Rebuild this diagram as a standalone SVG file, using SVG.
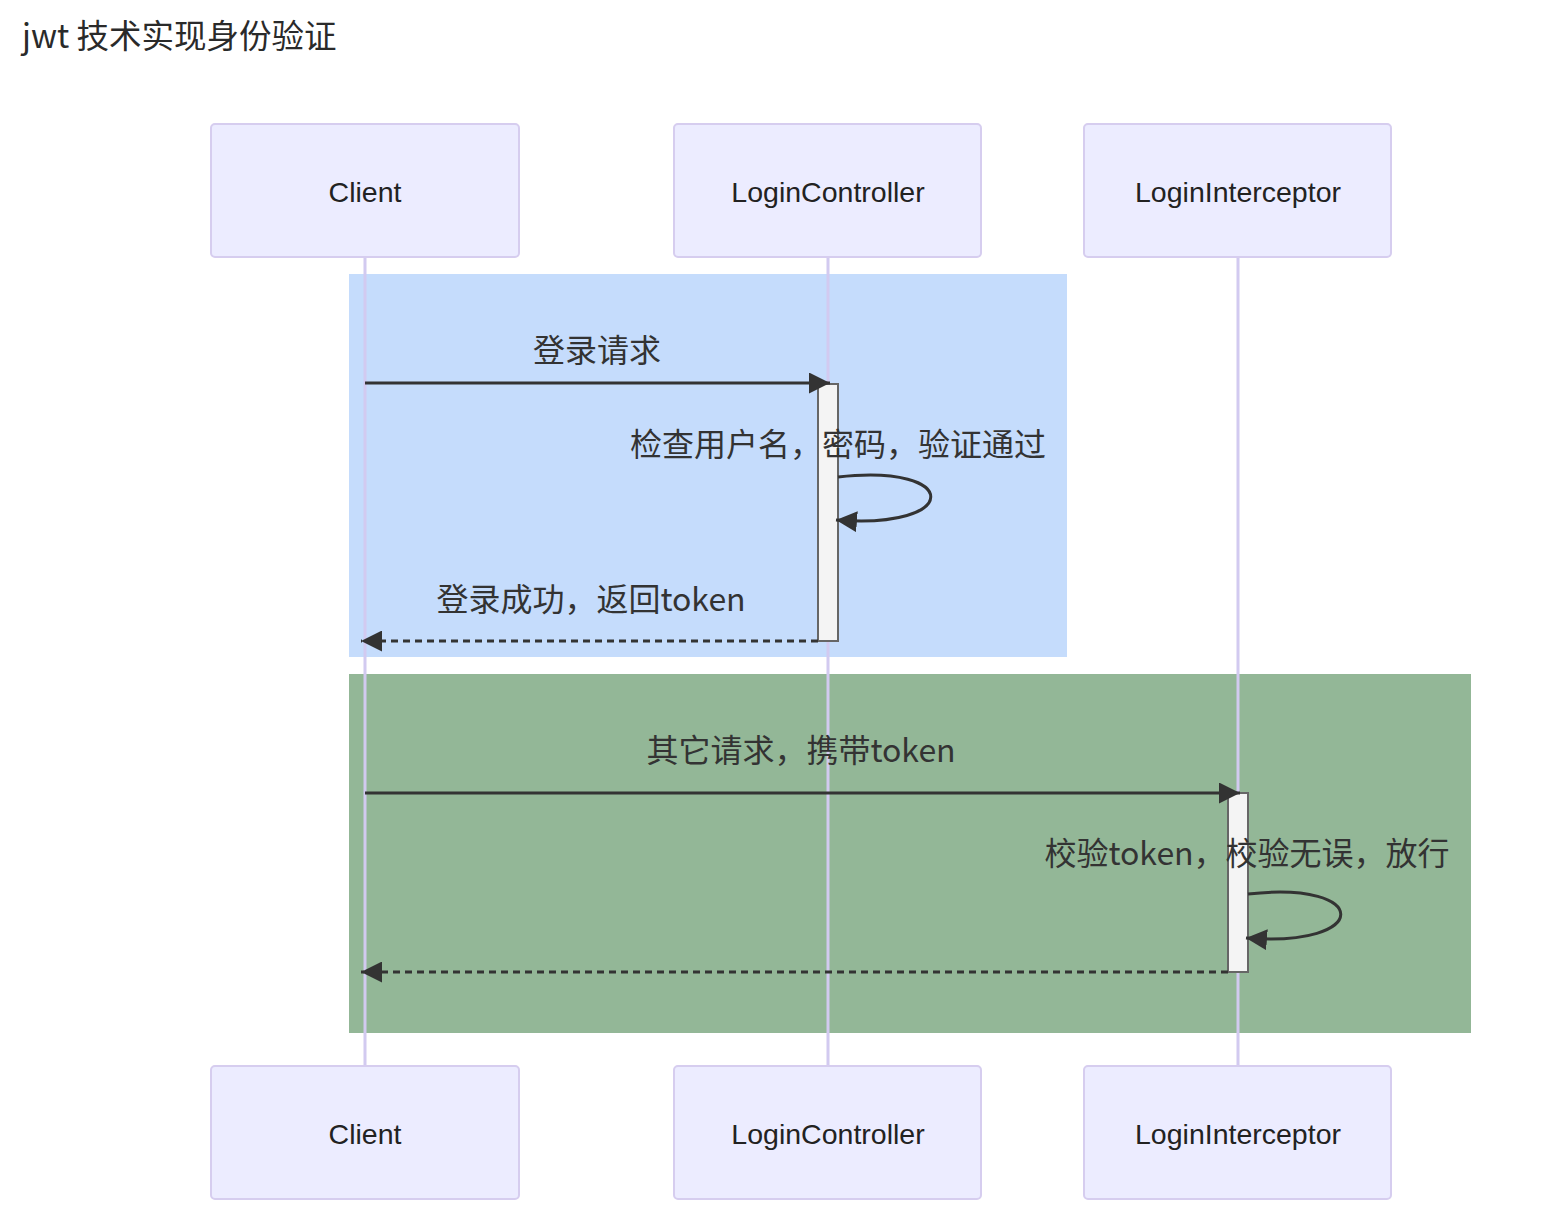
<svg xmlns="http://www.w3.org/2000/svg" width="1559" height="1218" viewBox="0 0 1559 1218">
<defs>
<style>
.actor{fill:#ececff;stroke:#d6cdef;stroke-width:2}
.actor-text{font-family:"Liberation Sans",Arial,sans-serif;font-size:28.5px;fill:#222;text-anchor:middle;dominant-baseline:central}
.life{stroke:#d2caf0;stroke-width:3;fill:none}
.msg{stroke:#333;stroke-width:3;fill:none}
.dash{stroke:#333;stroke-width:3;fill:none;stroke-dasharray:7 5}
.lbl{font-family:"Noto Sans CJK SC","Noto Sans",sans-serif;font-size:32px;fill:#333;text-anchor:middle}
.act{fill:#f4f4f4;stroke:#666;stroke-width:2}
</style>
<marker id="arrow" viewBox="0 0 12 12" refX="12" refY="6" markerWidth="7" markerHeight="7" markerUnits="strokeWidth" orient="auto">
<path d="M0,0 L12,6 L0,12 z" fill="#333"/>
</marker>
</defs>
<rect width="1559" height="1218" fill="#ffffff"/>
<text x="22" y="48" font-family="Noto Sans CJK SC,Noto Sans,sans-serif" font-size="32.5" font-weight="400" fill="#2a2a2a">jwt 技术实现身份验证</text>

<g id="loops">
<rect x="349" y="274" width="718" height="383" fill="#c5dcfc"/>
<rect x="349" y="674" width="1122" height="359" fill="#93b797"/>
</g>

<g id="lifelines">
<line class="life" x1="365" y1="257" x2="365" y2="1066"/>
<line class="life" x1="828" y1="257" x2="828" y2="1066"/>
<line class="life" x1="1238" y1="257" x2="1238" y2="1066"/>
</g>

<g id="client-top"><rect class="actor" x="211" y="124" width="308" height="133" rx="4"/><text class="actor-text" x="365" y="192">Client</text></g>
<g id="controller-top"><rect class="actor" x="674" y="124" width="307" height="133" rx="4"/><text class="actor-text" x="828" y="192">LoginController</text></g>
<g id="interceptor-top"><rect class="actor" x="1084" y="124" width="307" height="133" rx="4"/><text class="actor-text" x="1238" y="192">LoginInterceptor</text></g>
<g id="client-bottom"><rect class="actor" x="211" y="1066" width="308" height="133" rx="4"/><text class="actor-text" x="365" y="1134">Client</text></g>
<g id="controller-bottom"><rect class="actor" x="674" y="1066" width="307" height="133" rx="4"/><text class="actor-text" x="828" y="1134">LoginController</text></g>
<g id="interceptor-bottom"><rect class="actor" x="1084" y="1066" width="307" height="133" rx="4"/><text class="actor-text" x="1238" y="1134">LoginInterceptor</text></g>

<g id="activation-controller"><rect class="act" x="818" y="384" width="20" height="257"/></g>
<g id="activation-interceptor"><rect class="act" x="1228" y="793" width="20" height="179"/></g>

<g id="connectors">
<line class="msg" x1="365" y1="383" x2="830" y2="383" marker-end="url(#arrow)"/>
<path class="msg" d="M838,477 C962,463 962,530 836,520" marker-end="url(#arrow)"/>
<line class="dash" x1="818" y1="641" x2="361" y2="641" marker-end="url(#arrow)"/>
<line class="msg" x1="365" y1="793" x2="1240" y2="793" marker-end="url(#arrow)"/>
<path class="msg" d="M1248,894 C1372,880 1372,948 1246,938" marker-end="url(#arrow)"/>
<line class="dash" x1="1228" y1="972" x2="361" y2="972" marker-end="url(#arrow)"/>
</g>

<g id="labels">
<text class="lbl" x="597" y="362">登录请求</text>
<text class="lbl" x="838" y="456">检查用户名，密码，验证通过</text>
<text class="lbl" x="591" y="611">登录成功，返回token</text>
<text class="lbl" x="801" y="762">其它请求，携带token</text>
<text class="lbl" x="1247" y="865">校验token，校验无误，放行</text>
</g>
</svg>
